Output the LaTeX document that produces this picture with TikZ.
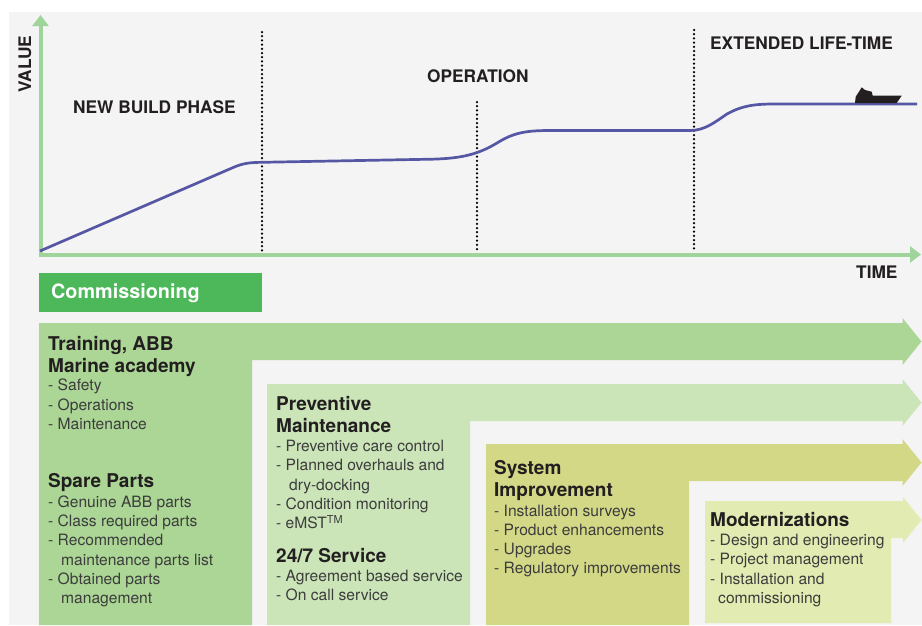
\documentclass[tikz,border=0pt]{standalone}
\usepackage{fontspec}
\setmainfont{TeX Gyre Heros}
\usetikzlibrary{arrows.meta}
\definecolor{panelgray}{HTML}{F4F4F4}
\definecolor{axisgreen}{HTML}{9FD49B}
\definecolor{curveblue}{HTML}{5557A4}
\definecolor{commgreen}{HTML}{4CB859}
\definecolor{bandone}{HTML}{ABD695}
\definecolor{bandtwo}{HTML}{CBE5B9}
\definecolor{bandthree}{HTML}{D3D886}
\definecolor{bandfour}{HTML}{E2ECB2}
\definecolor{inkdark}{HTML}{231F20}
\definecolor{inkitem}{HTML}{3C3C3C}
\tikzset{
  axisline/.style={axisgreen, line width=4pt, -{Triangle[length=11pt,width=16pt]}},
  phaseline/.style={black, line width=2.5pt, line cap=round, dash pattern=on 0pt off 4.2pt},
  phaselabel/.style={anchor=base west, inner sep=0pt, text=inkdark, font=\fontsize{17.3}{19}\selectfont\bfseries},
  headtext/.style={anchor=north west, inner sep=0pt, align=left, text=inkdark, font=\fontsize{19}{22}\selectfont\bfseries, execute at begin node=\strut},
  itemtext/.style={anchor=north west, inner sep=0pt, align=left, text=inkitem, font=\fontsize{15.6}{19.3}\selectfont, execute at begin node=\strut},
}
\begin{document}
\begin{tikzpicture}[x=1pt,y=-1pt]
      \useasboundingbox (0,0) rectangle (922,625);
      \fill[panelgray] (9,12) rectangle (922,625);

      % axes
      \coordinate (origin) at (40.5,254.5);
      \coordinate (valueend) at (40.5,15);
      \coordinate (timeend) at (921,254.5);
      \draw[axisline] (origin) -- (valueend);
      \draw[axisline] (38.5,254.5) -- (timeend);

      % phase borders
      \foreach \x/\y in {262/32,477/102,694/30} {
        \draw[phaseline] (\x,\y) -- (\x,251);
      }

      % value curve
      \draw[curveblue, line width=2.7pt] (40,251) -- (232,168)
        .. controls (243,163) and (250,162.5) .. (262,162.3)
        -- (425,159.3)
        .. controls (460,159) and (477,155) .. (497,143)
        .. controls (513,133) and (525,130.5) .. (550,130.5)
        -- (690,130.5)
        .. controls (705,130.5) and (715,122) .. (727,114)
        .. controls (742,105.5) and (755,104) .. (775,104)
        -- (917,104);

      % ship
      \fill[inkdark] (855,103) -- (855.7,96.7) -- (859,91.7) -- (861.7,87.3) -- (865,90)
        -- (871.7,91.7) -- (872.7,95.7) -- (901.7,95.7) -- (896.7,103) -- cycle;

      \node[phaselabel, rotate=90] (valuelabel) at (31,93) {VALUE};
      \node[phaselabel] (newbuild) at (73,113) {NEW BUILD PHASE};
      \node[phaselabel] (operation) at (427,82) {OPERATION};
      \node[phaselabel] (extended) at (710,49) {EXTENDED LIFE-TIME};
      \node[phaselabel] (timelabel) at (856,278) {TIME};

      \fill[commgreen] (39,273) rectangle (262,312);
      \node[anchor=base west, inner sep=0pt, text=white, font=\fontsize{19.8}{22}\selectfont\bfseries] (commissioning) at (51,298) {Commissioning};

      % stepped bands, last one on top
      \foreach \l/\r/\t/\b/\c in {39/252/323/360/bandone,267/470/384/421/bandtwo,486/689/444/481/bandthree} {
        \fill[\c] (\l,625) -- (\l,\t) -- (902.5,\t) -- (902.5,\t-5) -- (921.5,{(\t+\b)/2})
          -- (902.5,\b+5) -- (902.5,\b) -- (\r,\b) -- (\r,625) -- cycle;
      }
      \fill[bandfour] (705,623) -- (705,501) -- (903,501) -- (903,497) -- (921.5,520)
        -- (903,543) -- (903,538) -- (891,538) -- (891,623) -- cycle;

      \node[headtext] (training) at (48,336.6) {Training, ABB\\Marine academy};
      \node[itemtext] (trainlist) at (48,379) {- Safety\\- Operations\\- Maintenance};
      \node[headtext] (spares) at (48,471.6) {Spare Parts};
      \node[itemtext] (sparelist) at (48,495.5) {- Genuine ABB parts\\- Class required parts\\- Recommended\\\hspace*{13pt}maintenance parts list\\- Obtained parts\\\hspace*{13pt}management};

      \node[headtext] (preventive) at (276,396.6) {Preventive\\Maintenance};
      \node[itemtext] (prevlist) at (276,440) {- Preventive care control\\- Planned overhauls and\\\hspace*{13pt}dry-docking\\- Condition monitoring\\- eMST\textsuperscript{TM}};
      \node[headtext] (service) at (276,546.6) {24/7 Service};
      \node[itemtext] (servlist) at (276,570) {- Agreement based service\\- On call service};

      \node[headtext] (system) at (494,460.6) {System\\Improvement};
      \node[itemtext] (syslist) at (494,504.5) {- Installation surveys\\- Product enhancements\\- Upgrades\\- Regulatory improvements};

      \node[headtext] (modern) at (710,510.6) {Modernizations};
      \node[itemtext] (modlist) at (710,534) {- Design and engineering\\- Project management\\- Installation and\\\hspace*{8pt}commissioning};
\end{tikzpicture}
\end{document}
